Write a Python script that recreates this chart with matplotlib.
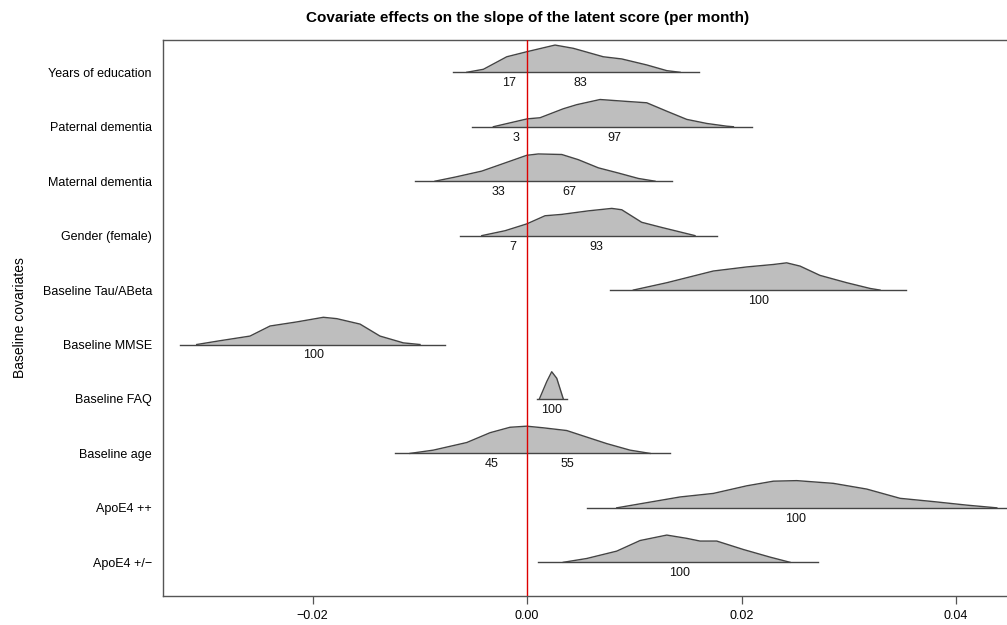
import numpy as np
import matplotlib
matplotlib.use("Agg")
import matplotlib.pyplot as plt

plt.rcParams["font.family"] = ["Liberation Sans", "DejaVu Sans"]

# covariates, top to bottom
covariates = ["Years of education", "Paternal dementia", "Maternal dementia",
              "Gender (female)", "Baseline Tau/ABeta", "Baseline MMSE",
              "Baseline FAQ", "Baseline age", "ApoE4 ++", "ApoE4 +/\u2212"]

# posterior sample range for each covariate (the flat base line)
ranges = [(-0.00693, 0.01607), (-0.0051, 0.02095), (-0.01044, 0.01349),
          (-0.00625, 0.01769), (0.00774, 0.03534), (-0.03235, -0.00765),
          (0.0009, 0.0037), (-0.01231, 0.01333), (0.00562, 0.047),
          (0.00105, 0.02716)]

# percent of posterior mass below / above zero
pct_below = [17, 3, 33, 7, None, None, None, 45, None, None]
pct_above = [83, 97, 67, 93, 100, 100, 100, 55, 100, 100]

# density outlines (x, relative height)
dens_x = [
    [-0.00562, -0.00407, -0.00189, 0.00003, 0.00261, 0.00432, 0.00711, 0.00883, 0.01116, 0.01303, 0.01427],
    [-0.00314, 0.00003, 0.00121, 0.00338, 0.00463, 0.00681, 0.0093, 0.01116, 0.01303, 0.01489, 0.01676, 0.01862, 0.01924],
    [-0.00858, -0.00671, -0.00422, -0.00205, -0.00003, 0.00105, 0.00324, 0.00478, 0.00665, 0.00851, 0.01038, 0.01193],
    [-0.00422, -0.00205, -0.00003, 0.00168, 0.00324, 0.00572, 0.0079, 0.00883, 0.01069, 0.01256, 0.01442, 0.01566],
    [0.00991, 0.01303, 0.01737, 0.02049, 0.02297, 0.02421, 0.02546, 0.02731, 0.02981, 0.03198, 0.03291],
    [-0.0308, -0.02862, -0.02583, -0.02396, -0.02147, -0.01899, -0.01774, -0.01557, -0.01371, -0.01153, -0.00998],
    [0.00115, 0.00184, 0.0023, 0.00277, 0.00338],
    [-0.01091, -0.00874, -0.00562, -0.00345, -0.00159, -0.00003, 0.00152, 0.0037, 0.00525, 0.00743, 0.0096, 0.01147],
    [0.00836, 0.01116, 0.01427, 0.01737, 0.02049, 0.02297, 0.02515, 0.02856, 0.03167, 0.03478, 0.03788, 0.041, 0.0438],
    [0.00338, 0.00557, 0.00836, 0.01054, 0.01303, 0.01489, 0.01613, 0.01769, 0.02017, 0.02266, 0.02452],
]
dens_h = [
    [0.0, 0.11, 0.57, 0.76, 1.0, 0.88, 0.57, 0.49, 0.27, 0.06, 0.0],
    [0.0, 0.29, 0.33, 0.66, 0.81, 1.0, 0.93, 0.88, 0.57, 0.27, 0.12, 0.02, 0.0],
    [0.0, 0.15, 0.37, 0.67, 0.95, 1.0, 0.98, 0.79, 0.49, 0.30, 0.10, 0.0],
    [0.0, 0.18, 0.43, 0.73, 0.78, 0.91, 1.0, 0.95, 0.49, 0.30, 0.12, 0.0],
    [0.0, 0.27, 0.70, 0.85, 0.94, 1.0, 0.88, 0.54, 0.27, 0.06, 0.0],
    [0.0, 0.14, 0.31, 0.68, 0.83, 1.0, 0.95, 0.75, 0.31, 0.06, 0.0],
    [0.0, 0.64, 1.0, 0.76, 0.0],
    [0.0, 0.12, 0.40, 0.76, 0.96, 1.0, 0.94, 0.84, 0.64, 0.36, 0.12, 0.0],
    [0.0, 0.19, 0.40, 0.53, 0.81, 0.98, 1.0, 0.90, 0.69, 0.35, 0.23, 0.10, 0.0],
    [0.0, 0.14, 0.41, 0.80, 1.0, 0.88, 0.78, 0.78, 0.47, 0.19, 0.0],
]

fig = plt.figure(figsize=(10.07, 6.25), dpi=100)
ax = fig.add_axes([0.1619, 0.0464, 0.861, 0.8896])

n = len(covariates)
scale = 0.5
for i, name in enumerate(covariates):
    y0 = n - i
    x = np.array(dens_x[i])
    h = np.array(dens_h[i]) * scale
    lo, hi = ranges[i]
    ax.fill_between(x, y0, y0 + h, color="#bebebe", lw=0, zorder=2)
    ax.plot(x, y0 + h, color="#444444", lw=1.0, zorder=3, solid_joinstyle="round")
    ax.plot([lo, hi], [y0, y0], color="#444444", lw=1.0, zorder=3)

    # label each side at its centre of mass
    xf = np.linspace(x[0], x[-1], 400)
    hf = np.interp(xf, x, h)
    if pct_below[i] is not None:
        m = xf < 0
        ax.text(np.sum(xf[m] * hf[m]) / np.sum(hf[m]), y0 - 0.2, str(pct_below[i]),
                ha="center", va="center", fontsize=9, color="#111111")
        m = xf >= 0
        ax.text(np.sum(xf[m] * hf[m]) / np.sum(hf[m]), y0 - 0.2, str(pct_above[i]),
                ha="center", va="center", fontsize=9, color="#111111")
    else:
        ax.text(np.sum(xf * hf) / np.sum(hf), y0 - 0.2, str(pct_above[i]),
                ha="center", va="center", fontsize=9, color="#111111")

ax.axvline(0, color="#dd0000", lw=1.0, zorder=4)

ax.set_xlim(-0.03394, 0.0469)
ax.set_ylim(0.381, 10.593)
ax.set_xticks([-0.02, 0.0, 0.02, 0.04])
ax.set_xticklabels(["\u22120.02", "0.00", "0.02", "0.04"])
ax.set_yticks(np.arange(n, 0, -1))
ax.set_yticklabels(covariates)
ax.tick_params(axis="y", length=0, pad=8, labelsize=9)
ax.tick_params(axis="x", length=6, width=0.9, color="#555555", pad=4, labelsize=9)
for s in ax.spines.values():
    s.set_color("#555555")
    s.set_linewidth(1.0)

ax.set_ylabel("Baseline covariates", fontsize=10, labelpad=11)
ax.set_title("Covariate effects on the slope of the latent score (per month)",
             fontsize=11, fontweight="bold", pad=13, x=0.42)

fig.savefig("out.png", dpi=100)
